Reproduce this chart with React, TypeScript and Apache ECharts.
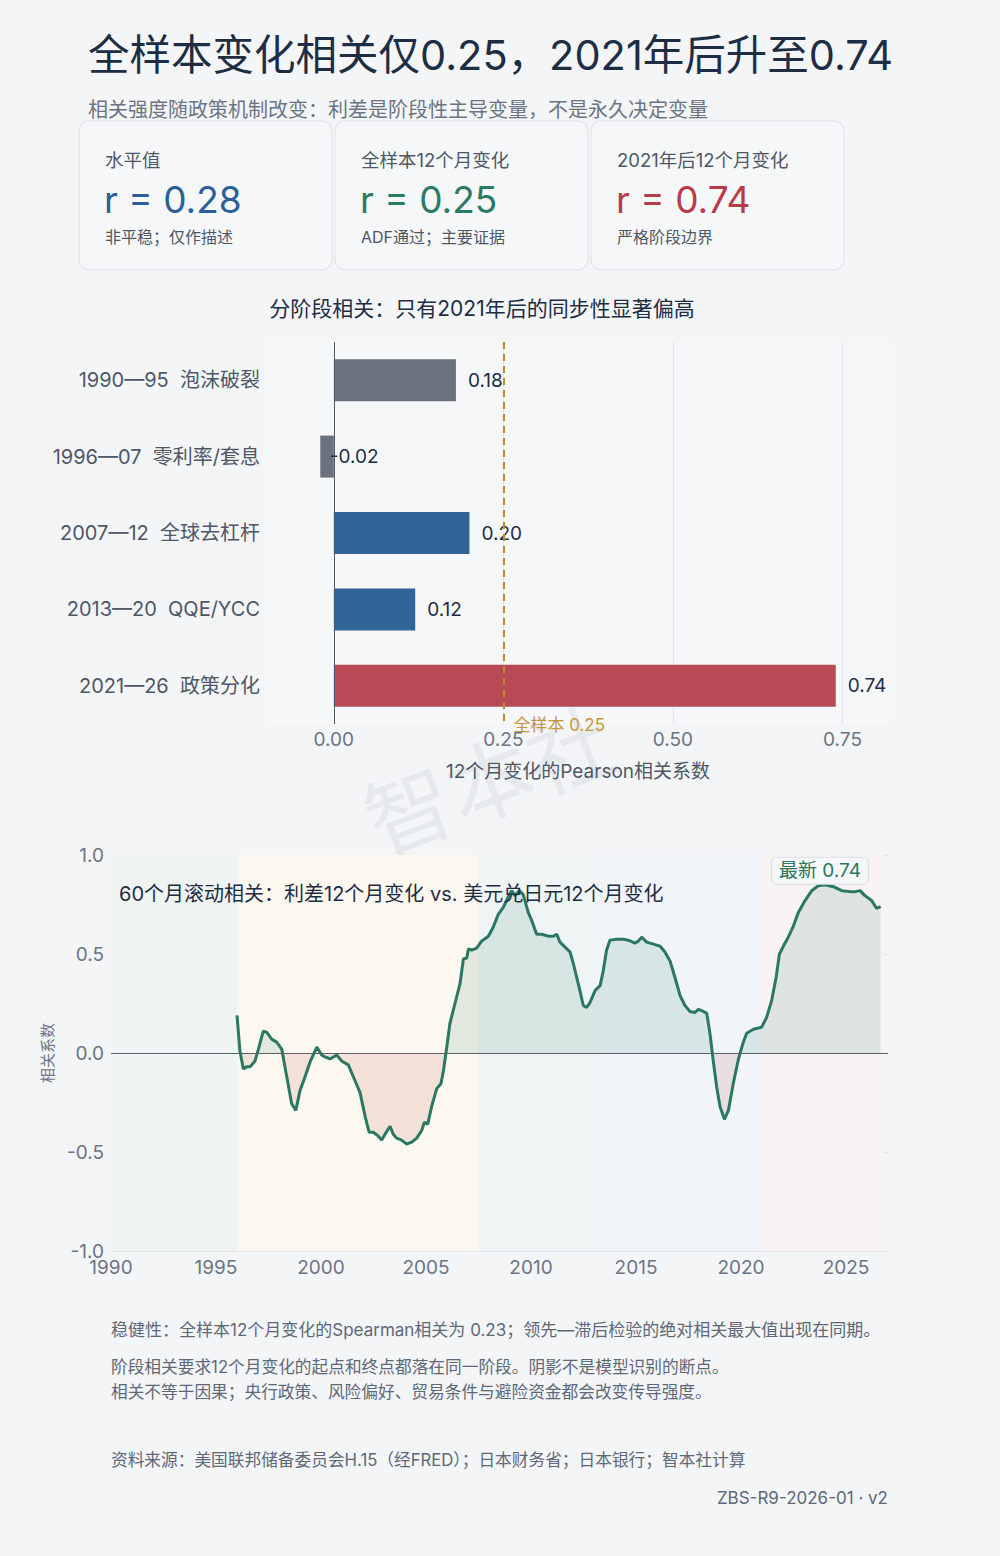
import { useEffect, useRef } from 'react';
import * as echarts from 'echarts';

const FONT = 'Inter, "Noto Sans CJK SC", sans-serif';
const PAGE_BG = '#f3f5f7';
const INK = '#1d2d44';
const MUTED = '#6b7484';

// 标题与说明文字
const TITLE = '全样本变化相关仅0.25，2021年后升至0.74';
const SUBTITLE = '相关强度随政策机制改变：利差是阶段性主导变量，不是永久决定变量';
const BAR_TITLE = '分阶段相关：只有2021年后的同步性显著偏高';
const LINE_TITLE = '60个月滚动相关：利差12个月变化 vs. 美元兑日元12个月变化';
const NOTES = [
  '稳健性：全样本12个月变化的Spearman相关为 0.23；领先—滞后检验的绝对相关最大值出现在同期。',
  '阶段相关要求12个月变化的起点和终点都落在同一阶段。阴影不是模型识别的断点。',
  '相关不等于因果；央行政策、风险偏好、贸易条件与避险资金都会改变传导强度。',
];
const SOURCE = '资料来源：美国联邦储备委员会H.15（经FRED）；日本财务省；日本银行；智本社计算';
const CODE = 'ZBS-R9-2026-01 · v2';

// 顶部三张卡片
const CARD_TITLES = ['水平值', '全样本12个月变化', '2021年后12个月变化'];
const CARD_R = [0.28, 0.25, 0.74];
const CARD_NOTES = ['非平稳；仅作描述', 'ADF通过；主要证据', '严格阶段边界'];
const CARD_COLORS = ['#2a5f97', '#2b7a63', '#b83b4a'];

// 分阶段相关
const STAGES = ['1990—95  泡沫破裂', '1996—07  零利率/套息', '2007—12  全球去杠杆', '2013—20  QQE/YCC', '2021—26  政策分化'];
const STAGE_R = [0.18, -0.02, 0.2, 0.12, 0.74];
const STAGE_COLORS = ['#6a7280', '#6a7280', '#31659a', '#31659a', '#b84a56'];
const FULL_SAMPLE_R = 0.25;
const BAR_TICKS = [0, 0.25, 0.5, 0.75];

// 60个月滚动相关（小数年份）
const ROLL_YEARS = [
  1996.0, 1996.14, 1996.3, 1996.46, 1996.62, 1996.86, 1997.02, 1997.25, 1997.41, 1997.65, 1997.89,
  1998.13, 1998.37, 1998.6, 1998.8, 1999.0, 1999.24, 1999.48, 1999.8, 2000.03, 2000.19, 2000.43,
  2000.75, 2000.98, 2001.3, 2001.62, 2001.86, 2002.1, 2002.29, 2002.49, 2002.73, 2002.89, 2003.05,
  2003.29, 2003.44, 2003.6, 2003.84, 2004.08, 2004.32, 2004.56, 2004.8, 2004.92, 2005.08, 2005.27,
  2005.51, 2005.71, 2005.83, 2005.99, 2006.14, 2006.38, 2006.62, 2006.78, 2006.94, 2007.02, 2007.18,
  2007.41, 2007.65, 2007.97, 2008.2, 2008.44, 2008.68, 2008.92, 2009.08, 2009.24, 2009.44, 2009.63,
  2009.87, 2010.03, 2010.27, 2010.5, 2010.82, 2011.06, 2011.22, 2011.38, 2011.62, 2011.86, 2012.02,
  2012.18, 2012.33, 2012.49, 2012.65, 2012.81, 2013.05, 2013.29, 2013.44, 2013.6, 2013.76, 2014.08,
  2014.4, 2014.71, 2014.95, 2015.11, 2015.27, 2015.51, 2015.83, 2016.14, 2016.38, 2016.62, 2016.86,
  2017.1, 2017.33, 2017.57, 2017.81, 2017.97, 2018.21, 2018.37, 2018.52, 2018.68, 2018.84, 2019.0,
  2019.21, 2019.4, 2019.63, 2019.87, 2020.08, 2020.27, 2020.59, 2020.98, 2021.22, 2021.46, 2021.67,
  2021.83, 2022.02, 2022.25, 2022.49, 2022.73, 2023.05, 2023.37, 2023.68, 2024.0, 2024.4, 2024.8,
  2025.19, 2025.43, 2025.67, 2025.9, 2026.22, 2026.46, 2026.65,
];
const ROLL_R = [
  0.19, 0.01, -0.08, -0.07, -0.07, -0.04, 0.02, 0.11, 0.105, 0.07, 0.055,
  0.02, -0.12, -0.255, -0.29, -0.19, -0.12, -0.045, 0.03, -0.01, -0.02, -0.03,
  -0.01, -0.04, -0.06, -0.14, -0.2, -0.32, -0.4, -0.4, -0.42, -0.44, -0.41,
  -0.37, -0.41, -0.43, -0.44, -0.46, -0.45, -0.43, -0.39, -0.35, -0.36, -0.27,
  -0.18, -0.155, -0.09, 0.03, 0.15, 0.25, 0.35, 0.475, 0.48, 0.525, 0.52,
  0.53, 0.565, 0.59, 0.635, 0.7, 0.735, 0.79, 0.82, 0.795, 0.82, 0.8,
  0.71, 0.67, 0.6, 0.6, 0.59, 0.59, 0.6, 0.56, 0.535, 0.51, 0.45,
  0.38, 0.315, 0.24, 0.23, 0.255, 0.315, 0.34, 0.415, 0.52, 0.57, 0.575,
  0.575, 0.567, 0.555, 0.565, 0.585, 0.56, 0.55, 0.54, 0.51, 0.465, 0.38,
  0.29, 0.24, 0.21, 0.205, 0.22, 0.21, 0.2, 0.1, -0.04, -0.17, -0.27,
  -0.335, -0.29, -0.155, -0.035, 0.045, 0.1, 0.12, 0.13, 0.18, 0.265, 0.38,
  0.5, 0.54, 0.585, 0.64, 0.71, 0.77, 0.82, 0.845, 0.85, 0.84, 0.82,
  0.815, 0.815, 0.82, 0.795, 0.77, 0.73, 0.74,
];
const LATEST = 0.74;
const YEAR_TICKS = [1990, 1995, 2000, 2005, 2010, 2015, 2020, 2025];

// 阶段阴影
const BAND_FROM = [1990, 1996, 2007.5, 2013, 2021];
const BAND_TO = [1996, 2007.5, 2013, 2021, 2026.8];
const BAND_COLORS = ['#eff4f3', '#fdf8ef', '#eff5f4', '#f1f5fa', '#f9f3f4'];

function txt(x: number, y: number, text: string, size: number, color: string, align = 'left') {
  return {
    type: 'text', x, y, silent: true,
    style: { text, fontSize: size, fontFamily: FONT, fill: color, align, verticalAlign: 'middle' },
  };
}

function staticGraphics(): any[] {
  const g: any[] = [
    {
      type: 'text', x: 490, y: 782, rotation: 0.36, silent: true,
      style: { text: '智本社', fontSize: 86, fontFamily: FONT, fill: 'rgba(150,162,178,0.14)', align: 'center', verticalAlign: 'middle' },
    },
    txt(88, 55, TITLE, 41.5, INK),
    txt(88, 110, SUBTITLE, 20, MUTED),
    txt(482, 308, BAR_TITLE, 21, INK, 'center'),
  ];
  CARD_TITLES.forEach((t, i) => {
    const x0 = 79 + i * 256;
    g.push({
      type: 'rect', silent: true,
      shape: { x: x0, y: 121, width: 253, height: 149, r: 10 },
      style: { fill: '#f6f7f9', stroke: '#dce0e6', lineWidth: 1 },
    });
    g.push(txt(x0 + 26, 160, t, 18.5, '#4d5766'));
    g.push(txt(x0 + 25, 199, `r = ${CARD_R[i].toFixed(2)}`, 37, CARD_COLORS[i]));
    g.push(txt(x0 + 26, 237, CARD_NOTES[i], 16, '#4d5766'));
  });
  g.push(txt(111, 1330, NOTES[0], 17, '#5d6878'));
  g.push(txt(111, 1367, NOTES[1], 16.7, '#5d6878'));
  g.push(txt(111, 1392, NOTES[2], 16.7, '#5d6878'));
  g.push(txt(111, 1460, SOURCE, 16.7, '#5d6878'));
  g.push(txt(888, 1498, CODE, 17, '#5d6878', 'right'));
  return g;
}

function buildOption(): any {
  const gridLine = (v: number) => ({ xAxis: v, lineStyle: { color: '#e2e5ea', width: 1, type: 'solid' } });
  return {
    animation: false,
    backgroundColor: PAGE_BG,
    textStyle: { fontFamily: FONT },
    title: [{
      text: LINE_TITLE, left: 114, top: 879,
      textStyle: { fontSize: 20, color: INK, fontWeight: 'normal', fontFamily: FONT },
    }],
    grid: [
      { left: 266, width: 624, top: 342, height: 382, show: true, backgroundColor: '#f6f7f9', borderWidth: 0 },
      { left: 111, width: 777, top: 855, height: 396 },
    ],
    xAxis: [
      {
        gridIndex: 0, type: 'value', min: -0.1, max: 0.82,
        axisLine: { show: false }, axisTick: { show: false }, splitLine: { show: false },
        axisLabel: {
          customValues: BAR_TICKS, formatter: (v: number) => v.toFixed(2),
          fontSize: 19, color: MUTED, margin: 6,
        },
        name: '12个月变化的Pearson相关系数', nameLocation: 'middle', nameGap: 38,
        nameTextStyle: { fontSize: 19, color: '#4d5766' },
      },
      {
        gridIndex: 1, type: 'value', min: 1990, max: 2027, interval: 5,
        axisLine: { show: false }, axisTick: { show: false }, splitLine: { show: false },
        axisLabel: { customValues: YEAR_TICKS, formatter: (v: number) => String(v), fontSize: 19, color: MUTED, margin: 7 },
      },
    ],
    yAxis: [
      {
        gridIndex: 0, type: 'category', data: STAGES, inverse: true,
        axisLine: { show: false }, axisTick: { show: false },
        axisLabel: { fontSize: 20, color: '#4d5766', margin: 6 },
      },
      {
        gridIndex: 1, type: 'value', min: -1, max: 1, interval: 0.5,
        axisLine: { show: false }, axisTick: { show: false },
        axisLabel: { formatter: (v: number) => v.toFixed(1), fontSize: 19, color: MUTED, margin: 7 },
        splitLine: { lineStyle: { color: '#e2e5ea', width: 1 } },
        name: '相关系数', nameLocation: 'middle', nameRotate: 90, nameGap: 56,
        nameTextStyle: { fontSize: 15, color: MUTED },
      },
    ],
    visualMap: [{
      type: 'piecewise', show: false, seriesIndex: 2, dimension: 1,
      pieces: [
        { gte: -1.5, lt: 0, color: '#b5473e' },
        { gte: 0, lte: 1.5, color: '#2e7d64' },
      ],
    }],
    series: [
      {
        // 竖向网格线置于条形之下
        type: 'line', xAxisIndex: 0, yAxisIndex: 0, data: [], silent: true,
        markLine: {
          z: 1, silent: true, symbol: ['none', 'none'], label: { show: false },
          data: [gridLine(0.25), gridLine(0.5), gridLine(0.75)],
        },
      },
      {
        type: 'bar', xAxisIndex: 0, yAxisIndex: 0, barWidth: 42, z: 2,
        data: STAGE_R.map((v, i) => ({
          value: v,
          itemStyle: { color: STAGE_COLORS[i] },
          label: v < 0 ? { distance: -4 } : undefined,
        })),
        label: {
          show: true, position: 'right', distance: 12, fontSize: 19, color: INK,
          formatter: (p: any) => p.value.toFixed(2),
        },
        markLine: {
          silent: true, symbol: ['none', 'none'], label: { show: false },
          data: [
            { xAxis: 0, lineStyle: { color: '#4d5a6b', width: 1, type: 'solid' } },
            { xAxis: FULL_SAMPLE_R, lineStyle: { color: '#c08a2a', width: 2, type: [7, 5] } },
          ],
        },
      },
      {
        type: 'line', xAxisIndex: 1, yAxisIndex: 1,
        data: ROLL_YEARS.map((y, i) => [y, ROLL_R[i]]),
        showSymbol: false, symbol: 'none',
        lineStyle: { color: '#2a7862', width: 3 },
        areaStyle: { opacity: 0.13 },
        markArea: {
          silent: true,
          data: BAND_FROM.map((a, i) => [{ xAxis: a, itemStyle: { color: BAND_COLORS[i] } }, { xAxis: BAND_TO[i] }]),
        },
        markLine: {
          silent: true, symbol: ['none', 'none'], label: { show: false },
          data: [{ yAxis: 0, lineStyle: { color: '#56606e', width: 1.2, type: 'solid' } }],
        },
        markPoint: {
          silent: true, symbol: 'rect', symbolSize: 1,
          itemStyle: { color: 'rgba(0,0,0,0)' },
          label: {
            show: true, position: 'inside', formatter: `最新 ${LATEST.toFixed(2)}`,
            color: '#2a7862', fontSize: 19, backgroundColor: '#f5f7f8',
            borderColor: '#d9dee4', borderWidth: 1, borderRadius: 5, padding: [4, 7, 3, 7],
          },
          data: [{ coord: [2023.76, 0.92] }],
        },
      },
    ],
  };
}

export default function App() {
  const ref = useRef<HTMLDivElement>(null);

  useEffect(() => {
    document.body.style.margin = '0';
    if (!ref.current) return;
    const chart = echarts.init(ref.current, null, { renderer: 'svg' });
    chart.setOption(buildOption());
    // 全样本参考线的文字标注，位置取自横轴刻度
    const px = chart.convertToPixel({ xAxisIndex: 0 }, FULL_SAMPLE_R) as number;
    chart.setOption({
      graphic: [...staticGraphics(), txt(px + 10, 725, `全样本 ${FULL_SAMPLE_R.toFixed(2)}`, 17, '#c8963a')],
    });
    return () => chart.dispose();
  }, []);

  return <div ref={ref} style={{ width: 1000, height: 1556, background: PAGE_BG }} />;
}
